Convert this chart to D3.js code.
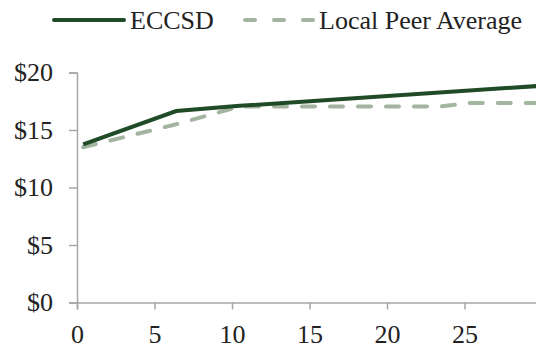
<!DOCTYPE html>
<html>
<head>
<meta charset="utf-8">
<script src="https://cdn.jsdelivr.net/npm/d3@7"></script>
<style>
  html, body { margin: 0; padding: 0; background: #fff; }
  svg { display: block; }
  text { font-family: "Liberation Serif", "Times New Roman", serif; fill: #222; }
</style>
</head>
<body>
<svg id="chart" width="536" height="348"></svg>
<script>
// Hourly pay by years of experience
const eccsdYears = [0.4, 6.4, 10.5, 30];
const eccsdPay   = [13.75, 16.65, 17.1, 18.85];
const peerYears  = [0.4, 6.4, 10.5, 23.4, 25.4, 30];
const peerPay    = [13.5, 15.5, 17.05, 17.05, 17.35, 17.35];
const xTicks = [0, 5, 10, 15, 20, 25];
const yTicks = [0, 5, 10, 15, 20];
const seriesNames = ["ECCSD", "Local Peer Average"];

const colors = { eccsd: "#1f4b27", peer: "#a3b4a0", axis: "#a6a6a6" };
const fontSize = "26px";
const svg = d3.select("#chart");

const x = d3.scaleLinear().domain([0, 30]).range([77, 542]);
const y = d3.scaleLinear().domain([0, 20]).range([302.5, 72.5]);

// Axes
const xAxis = d3.axisBottom(x).tickValues(xTicks).tickSize(7).tickPadding(15).tickFormat(d3.format("d"));
const yAxis = d3.axisLeft(y).tickValues(yTicks).tickSize(8).tickPadding(16).tickFormat(d => "$" + d);

const gx = svg.append("g").attr("transform", `translate(0,${y(0)})`).call(xAxis);
const gy = svg.append("g").attr("transform", `translate(${x(0)},0)`).call(yAxis);
[gx, gy].forEach(g => {
  g.attr("font-family", null).attr("font-size", null);
  g.select(".domain").attr("stroke", colors.axis).attr("stroke-width", 1.5);
  g.selectAll(".tick line").attr("stroke", colors.axis).attr("stroke-width", 1.5);
  g.selectAll(".tick text").style("font-size", fontSize).attr("fill", "#222");
});
gx.selectAll(".tick text").attr("dy", "0.71em");

// Lines
const line = d3.line().x(d => x(d[0])).y(d => y(d[1]));
const peerData = peerYears.map((v, i) => [v, peerPay[i]]);
const eccsdData = eccsdYears.map((v, i) => [v, eccsdPay[i]]);

svg.append("path").datum(peerData)
  .attr("d", line).attr("fill", "none")
  .attr("stroke", colors.peer).attr("stroke-width", 4)
  .attr("stroke-dasharray", "13,15").attr("stroke-linecap", "round");

svg.append("path").datum(eccsdData)
  .attr("d", line).attr("fill", "none")
  .attr("stroke", colors.eccsd).attr("stroke-width", 4)
  .attr("stroke-linejoin", "miter");

// Legend
const legend = svg.append("g");
legend.append("line").attr("x1", 54).attr("x2", 124).attr("y1", 20).attr("y2", 20)
  .attr("stroke", colors.eccsd).attr("stroke-width", 4).attr("stroke-linecap", "round");
legend.append("text").attr("x", 130).attr("y", 28.5).style("font-size", fontSize).text(seriesNames[0]);
legend.append("line").attr("x1", 245).attr("x2", 315).attr("y1", 20).attr("y2", 20)
  .attr("stroke", colors.peer).attr("stroke-width", 4).attr("stroke-linecap", "round")
  .attr("stroke-dasharray", "10,19");
legend.append("text").attr("x", 319).attr("y", 28.5).style("font-size", fontSize).text(seriesNames[1]);
</script>
</body>
</html>
